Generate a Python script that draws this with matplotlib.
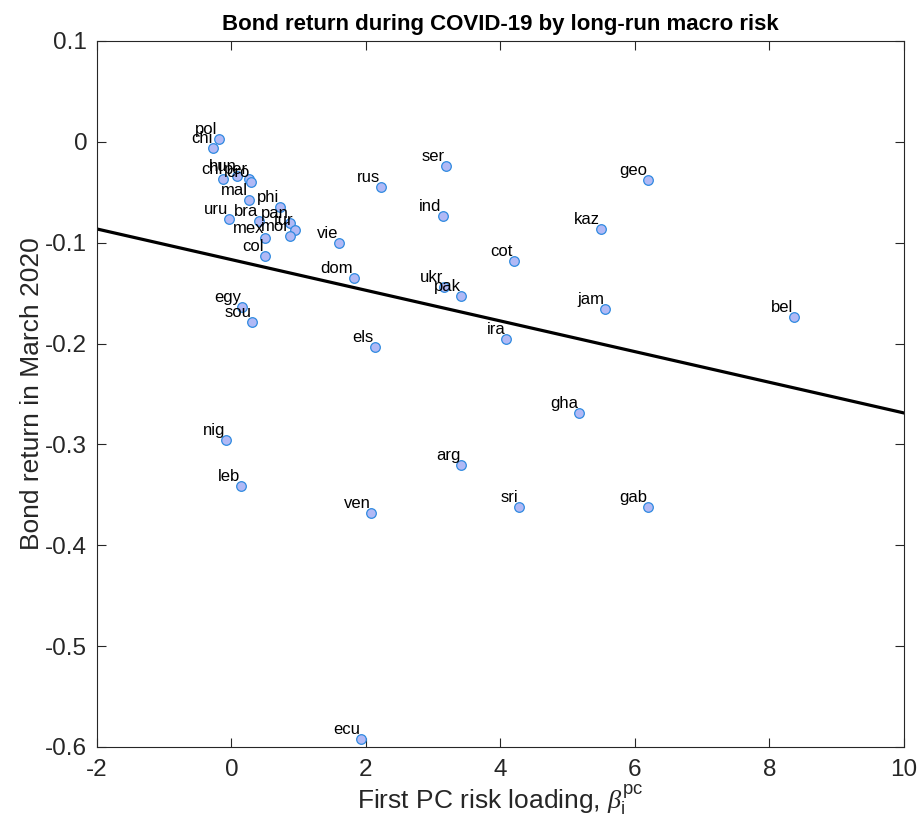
import matplotlib
matplotlib.use("Agg")
import matplotlib.pyplot as plt
from matplotlib.ticker import FormatStrFormatter

# country codes and values
countries = ["pol", "chi", "chl", "hun", "per", "cro", "mal", "phi", "uru", "bra",
             "pan", "tur", "mor", "mex", "col", "vie", "rus", "ser", "ind", "dom",
             "cot", "ukr", "pak", "egy", "sou", "els", "ira", "jam", "kaz", "geo",
             "bel", "gha", "nig", "arg", "leb", "ven", "sri", "gab", "ecu"]
beta_pc = [-0.19, -0.27, -0.12, 0.09, 0.265, 0.285, 0.265, 0.717, -0.037, 0.41,
           0.87, 0.94, 0.875, 0.50, 0.50, 1.60, 2.22, 3.19, 3.14, 1.82,
           4.20, 3.16, 3.42, 0.16, 0.31, 2.13, 4.09, 5.56, 5.50, 6.20,
           8.37, 5.17, -0.077, 3.42, 0.146, 2.08, 4.275, 6.20, 1.93]
bond_return = [0.0026, -0.0057, -0.0371, -0.0338, -0.0371, -0.0394, -0.0576, -0.0645, -0.0764, -0.0781,
               -0.0807, -0.0873, -0.0930, -0.0956, -0.1128, -0.1005, -0.045, -0.0239, -0.0735, -0.1353,
               -0.1184, -0.1442, -0.1531, -0.1637, -0.1786, -0.2034, -0.1951, -0.1657, -0.0867, -0.0374,
               -0.1733, -0.2685, -0.2959, -0.3207, -0.3412, -0.3683, -0.3617, -0.3617, -0.592]

# fitted line, end points read at the axis limits
fit_x = [-2, 10]
fit_y = [-0.0864, -0.2688]

x_ticks = [-2, 0, 2, 4, 6, 8, 10]
y_ticks = [-0.6, -0.5, -0.4, -0.3, -0.2, -0.1, 0, 0.1]

plt.rcParams["font.family"] = ["Liberation Sans", "DejaVu Sans"]
plt.rcParams["axes.unicode_minus"] = False
plt.rcParams["mathtext.fontset"] = "custom"
plt.rcParams["mathtext.rm"] = "Liberation Sans"
plt.rcParams["mathtext.it"] = "Liberation Serif:italic"

fig = plt.figure(figsize=(9.19, 8.31), dpi=100)
ax = fig.add_axes([0.1055, 0.1011, 0.878, 0.8496])

ax.plot(fit_x, fit_y, color="black", lw=2.3, zorder=2)
ax.scatter(beta_pc, bond_return, s=48, facecolor="#b1b9f5", edgecolor="#2f8ae0",
           linewidth=0.9, zorder=3)

for name, xv, yv in zip(countries, beta_pc, bond_return):
    ax.annotate(name, (xv, yv), xytext=(-0.7, 3.6), textcoords="offset points",
                ha="right", va="baseline", fontsize=12, color="black", zorder=4)

ax.set_xlim(-2, 10)
ax.set_ylim(-0.6, 0.1)
ax.set_xticks(x_ticks)
ax.set_yticks(y_ticks)
ax.yaxis.set_major_formatter(FormatStrFormatter("%g"))

ax.tick_params(direction="in", length=6.5, width=0.8, top=True, right=True,
               labelsize=17.5, colors="#262626", pad=7)
ax.tick_params(axis="x", pad=9)
for sp in ax.spines.values():
    sp.set_color("#262626")
    sp.set_linewidth(0.8)

ax.set_xlabel(r"First PC risk loading, $\beta_{\rm i}^{\rm pc}$", fontsize=19,
              color="#262626", labelpad=1)
ax.set_ylabel("Bond return in March 2020", fontsize=19, color="#262626", labelpad=1)
ax.set_title("Bond return during COVID-19 by long-run macro risk", fontsize=16,
             fontweight="bold", pad=8)

fig.savefig("out.png", dpi=100)
